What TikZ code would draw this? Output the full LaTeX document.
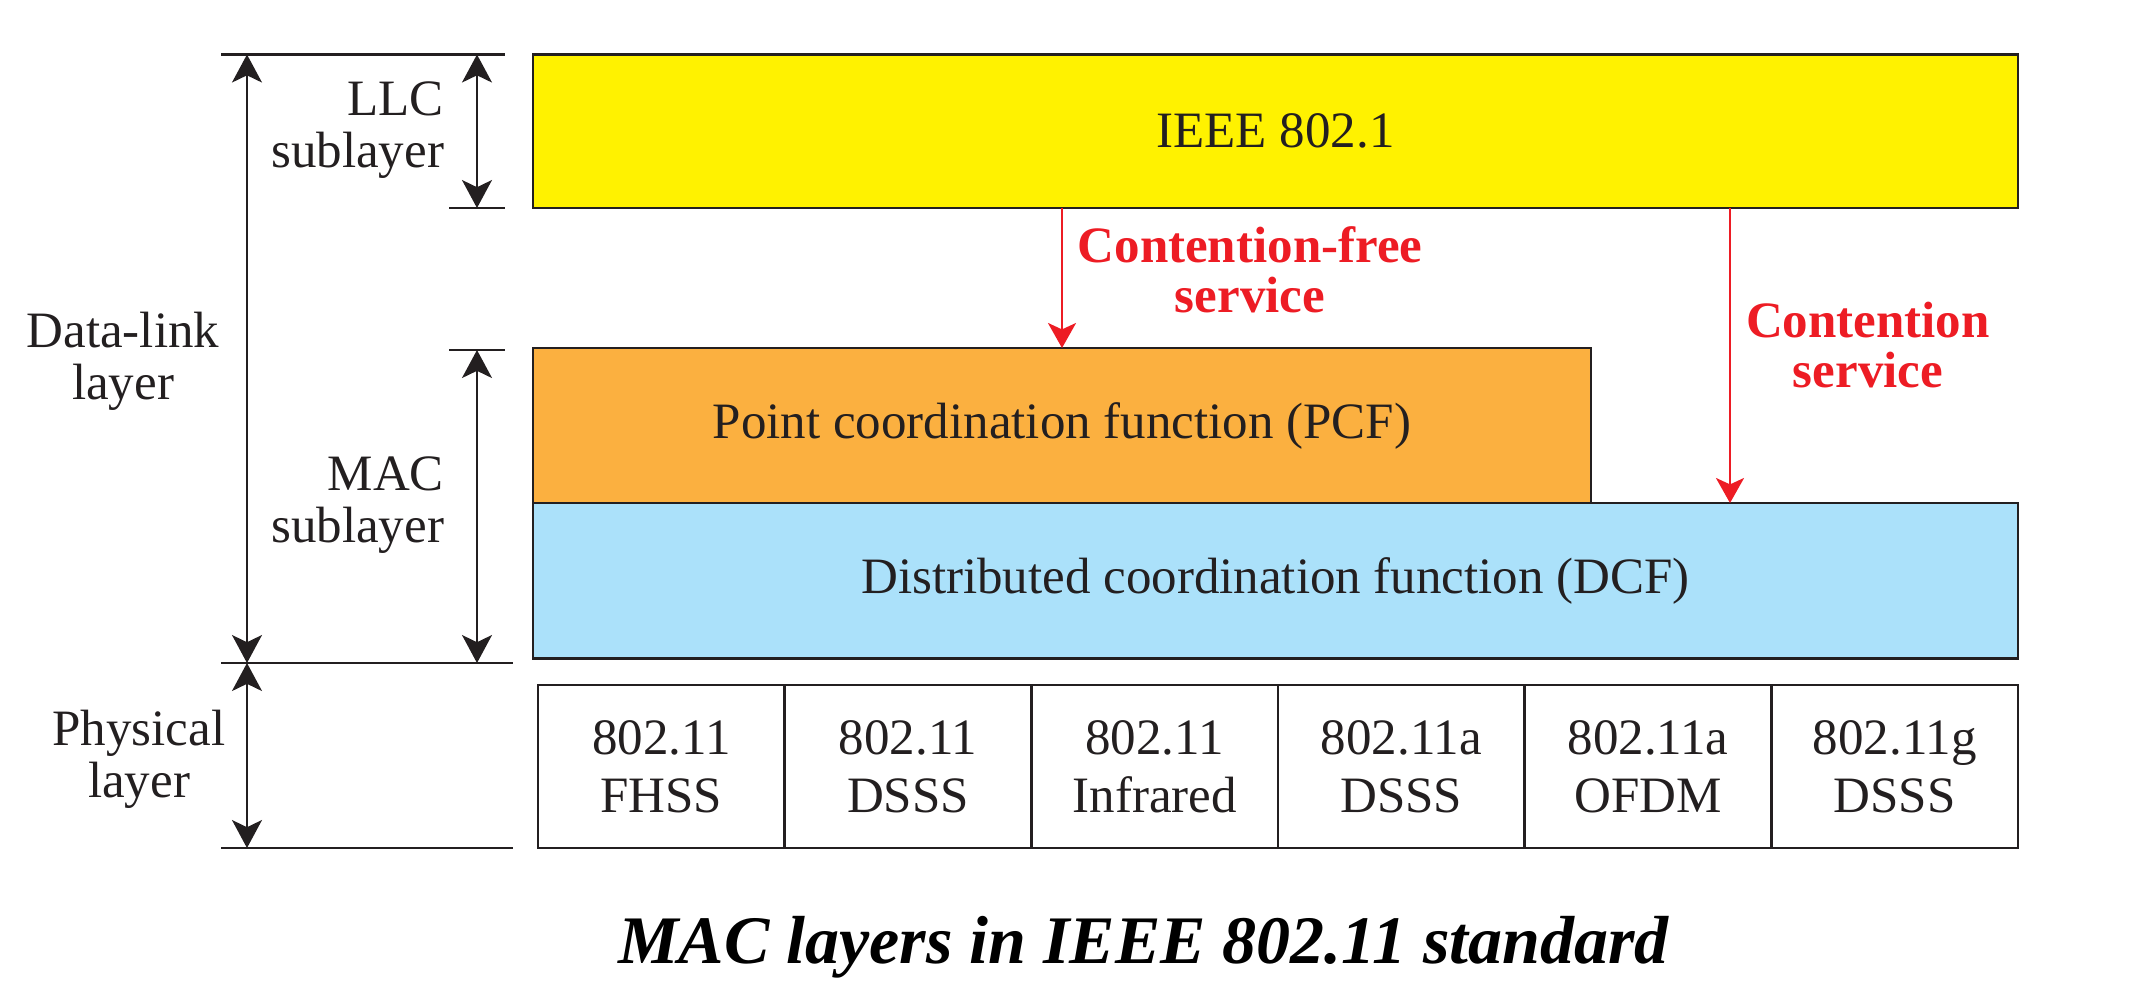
\documentclass[tikz,border=0pt]{standalone}
\usepackage{fontspec}
\setmainfont{Liberation Serif}
\usetikzlibrary{arrows.meta}
\definecolor{ink}{HTML}{231F20}
\definecolor{llcyellow}{HTML}{FFF200}
\definecolor{pcforange}{HTML}{FBB040}
\definecolor{dcfblue}{HTML}{ABE1FA}
\definecolor{svcred}{HTML}{ED1C24}
\begin{document}
\begin{tikzpicture}[x=0.25pt,y=-0.25pt,
  every node/.style={inner sep=0pt,outer sep=0pt,text=ink,font=\fontsize{12.75}{13}\selectfont},
  layerbox/.style={draw=ink,line width=0.7pt,minimum height=38.75pt},
  cellbox/.style={draw=ink,line width=0.7pt,fill=white,minimum width=61.667pt,minimum height=40.75pt,align=center,font=\fontsize{12.75}{14.5}\selectfont},
  rule/.style={draw=ink,line width=0.6pt},
  dim/.style={draw=ink,line width=0.45pt,{Stealth[length=7pt,width=7.5pt,inset=1.8pt]}-{Stealth[length=7pt,width=7.5pt,inset=1.8pt]}},
  svc/.style={draw=svcred,line width=0.7pt,-{Stealth[length=6.25pt,width=7pt,inset=1.6pt]}},
  svclabel/.style={text=svcred,align=center,font=\fontsize{12.75}{12.5}\selectfont\bfseries},
  sidelabel/.style={align=center}]
\useasboundingbox (0,0) rectangle (2144,1000);

% layer boxes
\node[layerbox,fill=llcyellow,minimum width=371.25pt,minimum height=38.375pt] (llc) at (1275.5,131.25) {IEEE 802.1};
\node[layerbox,fill=pcforange,minimum width=264.5pt] (pcf) at (1062,425.5) {Point coordination function (PCF)};
\node[layerbox,fill=dcfblue,minimum width=371.25pt,minimum height=38.875pt] (dcf) at (1275.5,580.75) {Distributed coordination function (DCF)};

% physical layer cells
\node[cellbox] (c1) at (661.33,766.5) {802.11\\FHSS};
\node[cellbox] (c2) at (908,766.5) {802.11\\DSSS};
\node[cellbox] (c3) at (1154.67,766.5) {802.11\\Infrared};
\node[cellbox] (c4) at (1401.33,766.5) {802.11a\\DSSS};
\node[cellbox] (c5) at (1648,766.5) {802.11a\\OFDM};
\node[cellbox] (c6) at (1894.67,766.5) {802.11g\\DSSS};

% service arrows
\coordinate (cs) at (1730,0);
\draw[svc] (pcf.north |- llc.south) -- (pcf.north);
\draw[svc] (cs |- llc.south) -- (cs |- dcf.north);
\node[svclabel] (cfree) at (1250,270) {Contention-free\\service};
\node[svclabel] (cserv) at (1868,345) {Contention\\service};

% dimension rules
\coordinate (tA) at (221,54.5);  \coordinate (tB) at (505,54.5);
\coordinate (lA) at (449,208);   \coordinate (lB) at (505,208);
\coordinate (mA) at (449,350);   \coordinate (mB) at (505,350);
\coordinate (pA) at (221,663);   \coordinate (pB) at (513,663);
\coordinate (bA) at (221,848);   \coordinate (bB) at (513,848);
\coordinate (xo) at (247,0);     \coordinate (xi) at (477,0);
\draw[rule] (tA) -- (tB);
\draw[rule] (lA) -- (lB);
\draw[rule] (mA) -- (mB);
\draw[rule] (pA) -- (pB);
\draw[rule] (bA) -- (bB);
\draw[dim] (xo |- tA) -- (xo |- pA);
\draw[dim] (xo |- pA) -- (xo |- bA);
\draw[dim] (xi |- tA) -- (xi |- lA);
\draw[dim] (xi |- mA) -- (xi |- pA);

% side labels
\node[sidelabel,align=right,anchor=east] (llcl) at (444,130) {LLC\\sublayer};
\node[sidelabel,align=right,anchor=east] (macl) at (444,505) {MAC\\sublayer};
\node[sidelabel] (dll) at (123,361.5) {Data-link\\layer};
\node[sidelabel] (phl) at (139,759) {Physical\\layer};

% caption
\node[anchor=base,font=\fontsize{17}{20}\selectfont\bfseries\itshape,text=black] (cap) at (1143.5,963) {MAC layers in IEEE 802.11 standard};
\end{tikzpicture}
\end{document}
